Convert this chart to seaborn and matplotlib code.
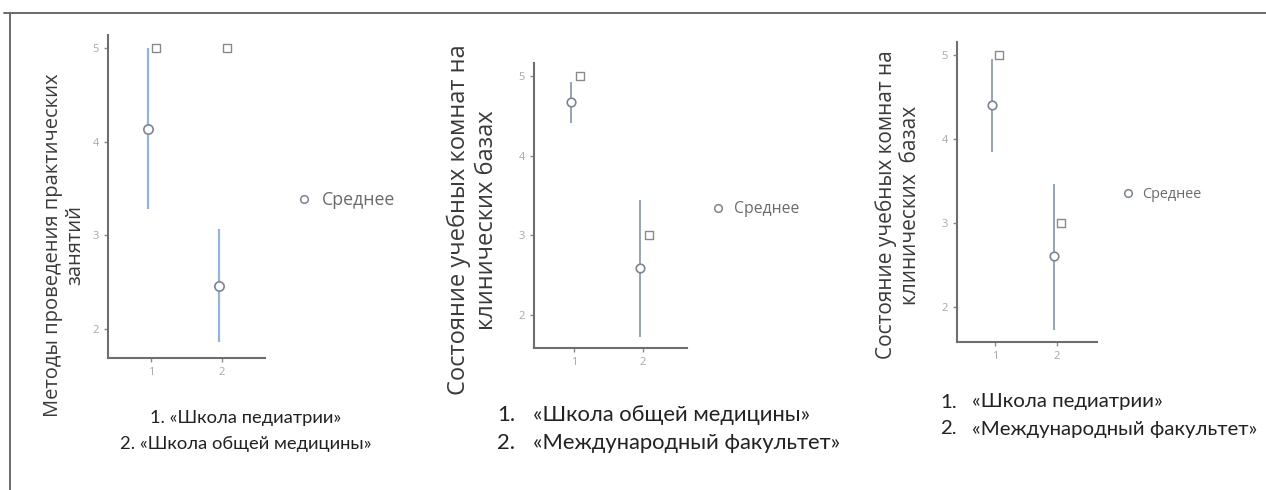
"""Means with intervals and medians for three survey items"""
import matplotlib.pyplot as plt
import pandas as pd
import seaborn as sns
from matplotlib.lines import Line2D

groups = [1, 2]

# panel 1: Методы проведения практических занятий
p1_mean = [4.14, 2.46]
p1_low = [3.28, 1.86]
p1_high = [5.0, 3.07]
p1_median = [5, 5]

# panel 2: Состояние учебных комнат (общая медицина / международный)
p2_mean = [4.67, 2.59]
p2_low = [4.41, 1.73]
p2_high = [4.92, 3.45]
p2_median = [5, 3]

# panel 3: Состояние учебных комнат (педиатрия / международный)
p3_mean = [4.40, 2.60]
p3_low = [3.85, 1.72]
p3_high = [4.95, 3.46]
p3_median = [5, 3]

ytick_vals = [2, 3, 4, 5]

panels = [
    {
        "mean": p1_mean, "low": p1_low, "high": p1_high, "median": p1_median,
        "ylabel": "Методы проведения практических\nзанятий",
        "captions": ["1. «Школа педиатрии»", "2. «Школа общей медицины»"],
    },
    {
        "mean": p2_mean, "low": p2_low, "high": p2_high, "median": p2_median,
        "ylabel": "Состояние учебных комнат на\nклинических базах",
        "captions": ["1.", "2."],
        "caption_text": ["«Школа общей медицины»", "«Международный факультет»"],
    },
    {
        "mean": p3_mean, "low": p3_low, "high": p3_high, "median": p3_median,
        "ylabel": "Состояние учебных комнат на\nклинических  базах",
        "captions": ["1.", "2."],
        "caption_text": ["«Школа педиатрии»", "«Международный факультет»"],
    },
]

sns.set_style("ticks")
plt.rcParams["font.family"] = ["Open Sans", "DejaVu Sans"]

W, H = 1266, 490
fig = plt.figure(figsize=(W / 100, H / 100), dpi=100)


def fx(px):
    return px / W


def fy(py):
    return 1 - py / H


# axes boxes in pixels: left, top, right, bottom
boxes = [(108, 35, 265, 358), (534, 63, 687, 348), (957, 42, 1097, 342)]
xlims = [(0.394, 2.606), (0.42, 2.64), (0.39, 2.645)]
ylims = [(1.69, 5.14), (1.59, 5.16), (1.58, 5.155)]
bar_colors = ["#93b3dc", "#8e9bb0", "#8e9bb0"]
mean_dx = [-0.04, -0.04, -0.05]
med_dx = [0.07, 0.09, 0.07]

for i, (p, box) in enumerate(zip(panels, boxes)):
    l, t, r, b = box
    ax = fig.add_axes([fx(l), fy(b), fx(r - l), (b - t) / H])
    df = pd.DataFrame({
        "group": groups,
        "mean": p["mean"],
        "low": p["low"],
        "high": p["high"],
        "median": p["median"],
    })
    ax.vlines(df["group"] + mean_dx[i], df["low"], df["high"],
              color=bar_colors[i], lw=1.6 if i == 0 else 1.3, zorder=2)
    sns.scatterplot(x=df["group"] + mean_dx[i], y=df["mean"], ax=ax,
                    marker="o", s=45 if i == 0 else 38, facecolor="white",
                    edgecolor="#7d8590", linewidth=1.2, zorder=3,
                    label="Среднее", legend=False)
    sns.scatterplot(x=df["group"] + med_dx[i], y=df["median"], ax=ax,
                    marker="s", s=30, facecolor="white",
                    edgecolor="#8a8a8a", linewidth=1.0, zorder=3, legend=False)
    ax.set_xlim(*xlims[i])
    ax.set_ylim(*ylims[i])
    ax.set_xticks(groups)
    ax.set_yticks(ytick_vals)
    ax.set_xlabel("")
    ax.set_ylabel("")
    ax.tick_params(colors="#8a8a8a", labelcolor="#a8a8a8", labelsize=8,
                   length=3, width=1)
    sns.despine(ax=ax)
    for side in ["left", "bottom"]:
        ax.spines[side].set_color("#6e6e6e")
        ax.spines[side].set_linewidth(1.5)

# y labels
fig.text(fx(64), fy(245), panels[0]["ylabel"], rotation=90, ha="center",
         va="center", fontsize=14.5, color="#3a3a3a", linespacing=1.15)
fig.text(fx(473), fy(220), panels[1]["ylabel"], rotation=90, ha="center",
         va="center", fontsize=17, color="#3a3a3a", linespacing=1.2)
fig.text(fx(898), fy(205), panels[2]["ylabel"], rotation=90, ha="center",
         va="center", fontsize=15, color="#3a3a3a", linespacing=1.2)

# captions
cap_font = ["Lato", "DejaVu Sans"]
cap_color = "#222222"
fig.text(fx(246), fy(418), panels[0]["captions"][0], ha="center", va="center",
         fontsize=13.2, color=cap_color, family=cap_font)
fig.text(fx(246), fy(444), panels[0]["captions"][1], ha="center", va="center",
         fontsize=13.2, color=cap_color, family=cap_font)
for p, xnum, xtxt, ys, fs in [(panels[1], 497, 533, (415, 443), 15.8),
                              (panels[2], 940, 972, (402, 429), 14.7)]:
    for k in range(2):
        fig.text(fx(xnum), fy(ys[k]), p["captions"][k], ha="left", va="center",
                 fontsize=fs, color=cap_color, family=cap_font)
        fig.text(fx(xtxt), fy(ys[k]), p["caption_text"][k], ha="left",
                 va="center", fontsize=fs, color=cap_color, family=cap_font)

# legends
handle = Line2D([], [], marker="o", ls="", markerfacecolor="white",
                markeredgecolor="#7d8590", markersize=5.5, markeredgewidth=1.1)
for (lx, ly, fs) in [(297, 200, 12.8), (712, 209, 11.3), (1122, 195, 10.4)]:
    fig.legend([handle], ["Среднее"], loc="center left",
               bbox_to_anchor=(fx(lx), fy(ly)), bbox_transform=fig.transFigure,
               frameon=False, fontsize=fs, handlelength=0.8,
               handletextpad=0.6, borderpad=0, borderaxespad=0,
               labelcolor="#6a6a6a")

# frame of the pasted picture
fig.add_artist(Line2D([fx(4), 1], [fy(13.5), fy(13.5)], color="#6a6a6a",
                      lw=1.4, transform=fig.transFigure))
fig.add_artist(Line2D([fx(9.5), fx(9.5)], [0, fy(13.5)], color="#6a6a6a",
                      lw=1.4, transform=fig.transFigure))

fig.savefig("out.png", dpi=100)
